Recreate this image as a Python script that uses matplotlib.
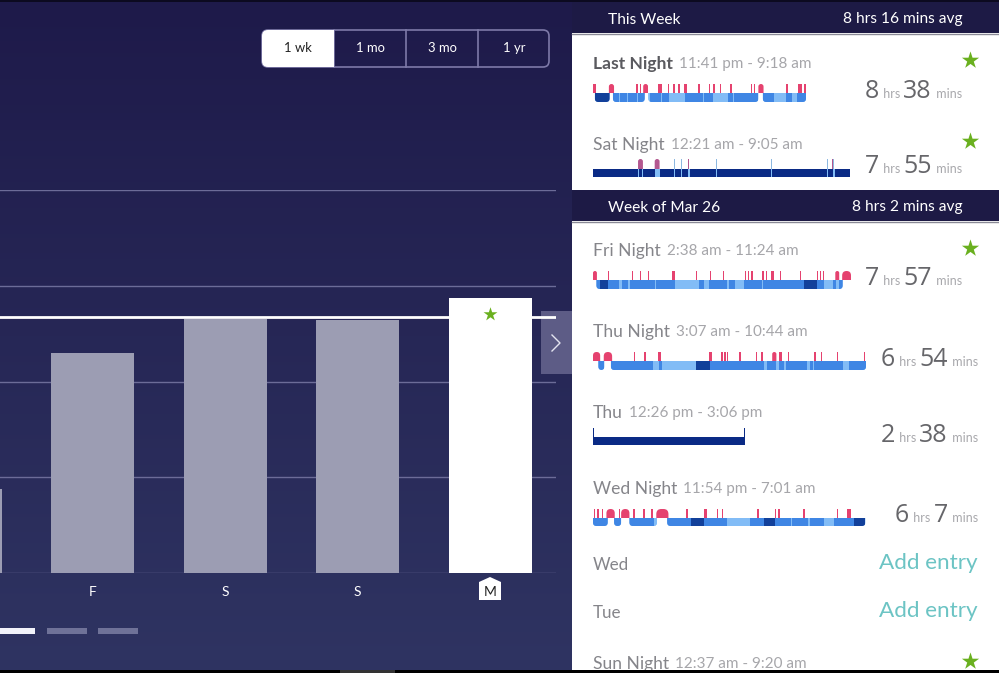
import numpy as np
import matplotlib
matplotlib.use("Agg")
import matplotlib.pyplot as plt
from matplotlib.patches import FancyBboxPatch, Rectangle, Polygon

plt.rcParams['font.family'] = ['Lato', 'DejaVu Sans']

W, H = 999, 673

# weekly chart (hours slept)
days = ['T', 'F', 'S', 'S', 'M']
hours = [2.63, 6.9, 7.95, 7.92, 8.63]
avg_hours = 8.03
grid_hours = [0, 3, 6, 9, 12]
ranges = ['1 wk', '1 mo', '3 mo', '1 yr']

# sleep log text
names = ['Last Night', 'Sat Night', 'Fri Night', 'Thu Night', 'Thu', 'Wed Night', 'Sun Night']
times = ['11:41 pm - 9:18 am', '12:21 am - 9:05 am', '2:38 am - 11:24 am', '3:07 am - 10:44 am',
         '12:26 pm - 3:06 pm', '11:54 pm - 7:01 am', '12:37 am - 9:20 am']
dur_hrs = ['8', '7', '7', '6', '2', '6']
dur_mins = ['38', '55', '57', '54', '38', '7']

# stages are (start min, end min, stage), awake are (start min, end min)
last_stages = [(5, 45, 'deep'), (54, 70, 'light'), (72, 93, 'light'), (95, 120, 'light'), (122, 140, 'light'),
               (150, 155, 'rem'), (155, 185, 'light'), (187, 205, 'light'), (205, 250, 'rem'), (250, 298, 'light'),
               (300, 325, 'light'), (325, 366, 'rem'), (366, 380, 'light'), (382, 448, 'light'), (460, 490, 'light'),
               (490, 522, 'rem'), (522, 538, 'light'), (538, 552, 'rem'), (552, 577, 'light')]
last_awake = [(0, 7), (43, 57), (116, 122), (127, 131), (136, 149), (177, 186), (203, 207), (217, 221), (231, 235),
              (247, 255), (285, 289), (313, 317), (326, 331), (344, 348), (370, 377), (428, 432), (437, 440),
              (448, 462), (524, 527), (556, 565), (571, 577)]

sat_stages = [(0, 525, 'classic'), (57, 58, 'rem'), (92, 94, 'rem'), (100, 102, 'rem'), (126, 136, 'rem'),
              (166, 167, 'rem'), (180, 181, 'rem'), (194, 198, 'rem'), (252, 253, 'rem'), (364, 366, 'rem'),
              (479, 480, 'rem'), (491, 494, 'rem')]
sat_awake = [(57, 58), (166, 167), (180, 181), (252, 253), (364, 365), (479, 480), (491, 492)]
sat_restless = [(92, 102), (126, 136), (194, 197), (488, 491)]

fri_stages = [(7, 15, 'light'), (15, 30, 'deep'), (30, 54, 'light'), (54, 59, 'rem'), (59, 71, 'light'),
              (71, 76, 'rem'), (76, 127, 'light'), (128, 167, 'light'), (167, 216, 'rem'), (216, 226, 'light'),
              (226, 236, 'rem'), (236, 273, 'light'), (273, 278, 'rem'), (278, 282, 'light'), (282, 290, 'light'),
              (290, 307, 'rem'), (307, 345, 'light'), (346, 431, 'light'), (431, 456, 'deep'), (456, 471, 'light'),
              (471, 490, 'rem'), (490, 496, 'light'), (502, 509, 'light')]
fri_awake = [(0, 8), (31, 33), (80, 82), (95, 97), (112, 114), (161, 167), (210, 212), (239, 241), (265, 267),
             (309, 312), (316, 319), (322, 326), (345, 348), (352, 355), (363, 369), (381, 383), (422, 424),
             (457, 459), (462, 465), (468, 471), (494, 502), (508, 526)]

thu_stages = [(9, 19, 'light'), (30, 101, 'light'), (101, 111, 'rem'), (111, 115, 'light'), (115, 173, 'rem'),
              (173, 196, 'deep'), (196, 286, 'light'), (286, 292, 'rem'), (292, 307, 'light'), (307, 311, 'rem'),
              (311, 319, 'light'), (319, 323, 'rem'), (323, 358, 'light'), (358, 363, 'rem'), (363, 369, 'light'),
              (370, 419, 'light'), (419, 428, 'rem'), (428, 457, 'light')]
thu_awake = [(0, 12), (18, 32), (68, 71), (86, 89), (109, 114), (195, 200), (214, 217), (219, 223), (224, 226),
             (244, 248), (273, 275), (282, 284), (300, 307), (311, 316), (326, 328), (370, 373), (381, 383),
             (408, 410), (453, 455)]

nap_stages = [(0, 160, 'classic')]
nap_awake = [(0, 0.6), (159.4, 160)]

wed_stages = [(0, 23, 'light'), (33, 44, 'light'), (57, 96, 'light'), (96, 100, 'rem'), (116, 154, 'light'),
              (154, 174, 'deep'), (174, 210, 'light'), (210, 245, 'rem'), (245, 268, 'light'), (268, 284, 'deep'),
              (284, 309, 'light'), (309, 311, 'rem'), (311, 337, 'light'), (337, 339, 'rem'), (339, 362, 'light'),
              (362, 377, 'rem'), (377, 408, 'light'), (408, 426, 'deep')]
wed_awake = [(1, 3), (7, 9), (14, 16), (21, 34), (40, 43), (44, 57), (63, 66), (78, 81), (90, 94), (99, 118),
             (146, 148), (173, 178), (194, 196), (201, 203), (257, 259), (285, 287), (290, 292), (329, 331),
             (381, 383), (398, 403)]

stage_colors = {'deep': '#12409a', 'light': '#3f86e4', 'rem': '#82bcf6', 'classic': '#0a2a85'}
AWAKE = '#e5426f'

fig = plt.figure(figsize=(W / 100, H / 100), dpi=100)

# page in pixel coords
bg = fig.add_axes([0, 0, 1, 1], zorder=0)
bg.axis('off')
grad = np.linspace(0, 1, 256).reshape(-1, 1)
cmap = matplotlib.colors.LinearSegmentedColormap.from_list('bg', ['#1e1a4a', '#2f3462'])
bg.imshow(grad, extent=(0, 572, H, 0), aspect='auto', cmap=cmap, zorder=0)
bg.set_xlim(0, W)
bg.set_ylim(H, 0)
bg.add_patch(Rectangle((572, 0), W - 572, H, color='white', lw=0, zorder=1))
bg.add_patch(Rectangle((541, 311), 31, 63, color='#5d5c86', lw=0, zorder=1))
bg.plot([552, 560, 552], [335, 343, 351], color='#e4e4f0', lw=1, zorder=2)


def px_text(x, y, s, px, color='#555555', **kw):
    kw.setdefault('va', 'center')
    return bg.text(x, y, s, fontsize=px * 0.72, color=color, zorder=5, **kw)


# range selector
bg.add_patch(FancyBboxPatch((262, 30), 287, 37, boxstyle='round,pad=0,rounding_size=6',
                            fc='none', ec='#7d79a8', lw=1.2, zorder=2))
bg.add_patch(FancyBboxPatch((262, 30), 60, 37, boxstyle='round,pad=0,rounding_size=6',
                            fc='white', ec='none', zorder=3))
bg.add_patch(Rectangle((300, 30), 34, 37, fc='white', ec='none', zorder=3))
for i, label in enumerate(ranges):
    px_text(298 + 72 * i, 48, label, 13, color='#222222' if i == 0 else 'white', ha='center')
    if i > 0:
        bg.plot([262 + 72 * i] * 2, [30, 67], color='#7d79a8', lw=1.2, zorder=2)

# pager + day badge
bg.add_patch(Rectangle((0, 628), 35, 6, color='#f2f3fa', lw=0, zorder=2))
bg.add_patch(Rectangle((47, 628), 40, 6, color='#6f7298', lw=0, zorder=2))
bg.add_patch(Rectangle((98, 628), 40, 6, color='#6f7298', lw=0, zorder=2))
bg.add_patch(Polygon([(479, 582), (490, 577), (501, 582), (501, 600), (479, 600)], color='white', lw=0, zorder=2))

# weekly bars
ax = fig.add_axes([0, 1 - 573 / H, 556 / W, (573 - 190) / H], zorder=2)
ax.patch.set_alpha(0)
x = np.arange(len(days))
ax.bar(x, hours, width=83 / 132.5, color=['#9c9db3'] * 4 + ['white'], zorder=3)
ax.axhline(avg_hours, color='white', lw=2, zorder=2)
ax.set_ylim(0, 12)
ax.set_yticks(grid_hours)
ax.set_yticklabels([])
ax.set_xticks(x)
ax.set_xticklabels(days, fontsize=10, color='white')
ax.get_xticklabels()[-1].set_color('#222222')
ax.set_xlim(40 / 132.5, 596 / 132.5)
ax.tick_params(length=0, pad=9)
ax.grid(axis='y', color='#6c6c98', lw=1, zorder=1)
for s in ax.spines.values():
    s.set_visible(False)
ax.scatter([4], [8.63 - 0.5], marker='*', s=110, color='#6ab01f', zorder=4, lw=0)

# section headers
for top, left, right in [(2, 'This Week', '8 hrs 16 mins avg'), (190, 'Week of Mar 26', '8 hrs 2 mins avg')]:
    bg.add_patch(Rectangle((572, top), W - 572, 31, color='#1d1a45', lw=0, zorder=2))
    bg.plot([572, W], [top + 31.5] * 2, color='#8a8a96', lw=1, zorder=2)
    px_text(608, top + 17.5, left, 15.5, color='white')
    px_text(963, top + 17.5, right, 15.5, color='white', ha='right')


def sleep_row(x0, x1, top, mid, bottom, total, stages, awake, tick_color=AWAKE, restless=None, rounded=True):
    a = fig.add_axes([x0 / W, 1 - bottom / H, (x1 - x0) / W, (bottom - top) / H], zorder=3)
    a.patch.set_alpha(0)
    a.axis('off')
    a.set_xlim(0, total)
    bar_px = bottom - mid
    ymax = (bottom - top) / bar_px
    a.set_ylim(0, ymax)
    min_px = total / (x1 - x0)

    # contiguous blocks get round corners
    spans = sorted((s, e) for s, e, _ in stages)
    blocks = []
    for s, e in spans:
        if blocks and s - blocks[-1][1] <= 3 * min_px:
            blocks[-1][1] = max(blocks[-1][1], e)
        else:
            blocks.append([s, e])
    # rounding radius in px, converted with mutation_aspect
    r = (3.5 if rounded else 0.01) * min_px
    aspect = (1 / bar_px) / min_px
    patches = []
    for s, e in blocks:
        p = FancyBboxPatch((s, 0), e - s, 1.6, boxstyle=f'round,pad=0,rounding_size={r}',
                           mutation_aspect=aspect, fc=stage_colors['rem'], ec='none', lw=0)
        a.add_patch(p)
        p.set_clip_path(Rectangle((0, 0), total, 1, transform=a.transData))
        patches.append(((s, e), p))
    for s, e, st in stages:
        for (bs, be), p in patches:
            if s >= bs and e <= be:
                b = a.barh(0.5, e - s, left=s, height=1, color=stage_colors[st], lw=0)[0]
                b.set_clip_path(p)

    def ticks(items, color):
        clip = Rectangle((0, 1), total, ymax - 1, transform=a.transData)
        for s, e in items:
            if (e - s) / min_px > 3.5:
                rad = min((e - s) / 2, 5 * min_px)
                p = FancyBboxPatch((s, 0.3), e - s, ymax - 0.3, boxstyle=f'round,pad=0,rounding_size={rad}',
                                   mutation_aspect=aspect, fc=color, ec='none', lw=0)
                a.add_patch(p)
                p.set_clip_path(clip)
            else:
                a.barh(1 + (ymax - 1) / 2, e - s, left=s, height=ymax - 1, color=color, lw=0)

    ticks(awake, tick_color)
    if restless:
        ticks(restless, '#b3578f')
    return a


sleep_row(593, 806, 84, 93, 102, 577, last_stages, last_awake)
sleep_row(593, 850, 159, 169, 177, 525, sat_stages, sat_awake, tick_color='#8db8e0', restless=sat_restless,
          rounded=False)
sleep_row(593, 851, 271, 280, 289, 526, fri_stages, fri_awake)
sleep_row(593, 866, 352, 361, 370, 457, thu_stages, thu_awake)
sleep_row(593, 745, 428, 437, 445, 160, nap_stages, nap_awake, tick_color='#0a2a85', rounded=False)
sleep_row(593, 866, 509, 518, 526, 427, wed_stages, wed_awake)

# row text
canvas = fig.canvas
rend = canvas.get_renderer()
name_y = [64, 145, 251, 332, 413, 489, 664]
for i, (n, t, y) in enumerate(zip(names, times, name_y)):
    bold = i == 0
    lab = px_text(593, y, n, 17.5, color='#5a5a5f' if bold else '#85858a', fontweight='bold' if bold else 'normal')
    ext = lab.get_window_extent(rend)
    px_text(ext.x1 + 6, y, t, 15.3, color='#a6a6aa')

dur_y = [98, 173, 285, 366, 442, 522]
dur_right = [962, 962, 962, 978, 978, 978]


def duration(right, y, hrs, mins):
    # laid out right to left
    xr = right
    for s, px, col, gap, fam in [(' mins', 12.5, '#a8a8ac', 1, 'Lato'), (mins, 25, '#66666a', 3, 'Open Sans'),
                                 (' hrs', 12.5, '#a8a8ac', 1, 'Lato'), (hrs, 25, '#66666a', 1, 'Open Sans')]:
        t = px_text(xr, y, s, px, color=col, ha='right', va='baseline', family=fam)
        xr = t.get_window_extent(rend).x0 - gap


for h, m, y, r in zip(dur_hrs, dur_mins, dur_y, dur_right):
    duration(r, y, h, m)

star_y = [60, 141, 248, 661]
bg.scatter([970] * 4, star_y, marker='*', s=170, color='#6ab01f', zorder=5, lw=0)

px_text(593, 565, 'Wed', 17, color='#85858a')
px_text(593, 613, 'Tue', 17, color='#85858a')
px_text(978, 563, 'Add entry', 22.5, color='#6cc4c4', ha='right')
px_text(978, 611, 'Add entry', 22.5, color='#6cc4c4', ha='right')

# screenshot edges
bg.add_patch(Rectangle((0, 670), W, 3, color='black', lw=0, zorder=6))
bg.add_patch(Rectangle((340, 670), 55, 3, color='#333333', lw=0, zorder=7))
bg.add_patch(Rectangle((0, 0), W, 2, color='#0c0a20', lw=0, zorder=6))

fig.savefig('out.png', dpi=100)
